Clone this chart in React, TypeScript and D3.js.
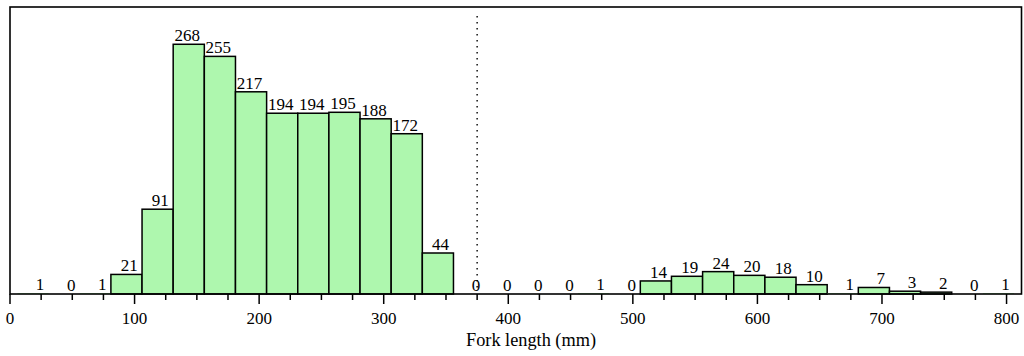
import React from "react";
import { scaleLinear, range } from "d3";

// 25 mm bins, starting at 6 mm
const binStart = 6;
const binWidth = 25;
const counts = [
  1, 0, 1, 21, 91, 268, 255, 217, 194, 194, 195, 188, 172, 44, 0, 0, 0, 0, 1,
  0, 14, 19, 24, 20, 18, 10, 1, 7, 3, 2, 0, 1,
];
const majorTicks = [0, 100, 200, 300, 400, 500, 600, 700, 800];
const minorTicks = range(25, 800, 25).filter((t) => t % 100 !== 0);
const cutoff = 375;
const xTitle = "Fork length (mm)";

const W = 1024;
const H = 356;
const left = 10;
const right = 1021.5;
const top = 7;
const bottom = 294;
const font = "'Liberation Serif', 'Times New Roman', serif";

export default function App() {
  const x = scaleLinear().domain([0, 812]).range([left, right]);
  const y = scaleLinear().domain([0, 308]).range([bottom, top]);

  return (
    <svg
      width={W}
      height={H}
      style={{ position: "absolute", left: 0, top: 0 }}
      fontFamily={font}
    >
      <rect width={W} height={H} fill="#fff" />
      {counts.map((c, i) => {
        const x0 = binStart + i * binWidth;
        // bars under ~1px vanish into the axis line
        const h = bottom - y(c);
        return (
          <rect
            key={"b" + i}
            x={x(x0)}
            y={y(c)}
            width={x(x0 + binWidth) - x(x0)}
            height={h}
            fill="#aef7ae"
            stroke={h > 1 ? "#000" : "none"}
            strokeWidth={1.5}
          />
        );
      })}
      {counts.map((c, i) => {
        const x0 = binStart + i * binWidth;
        return (
          <text
            key={"l" + i}
            x={x(x0 + 21.5)}
            y={y(c) - 3}
            fontSize={17}
            textAnchor="end"
            fill="#000"
          >
            {c}
          </text>
        );
      })}
      <line
        x1={x(cutoff)}
        x2={x(cutoff)}
        y1={top + 9}
        y2={bottom - 4}
        stroke="#000"
        strokeWidth={1.4}
        strokeDasharray="1.5,4.5"
      />
      <rect
        x={left}
        y={top}
        width={right - left}
        height={bottom - top}
        fill="none"
        stroke="#000"
        strokeWidth={1.6}
      />
      {minorTicks.map((t) => (
        <line
          key={"m" + t}
          x1={x(t)}
          x2={x(t)}
          y1={bottom}
          y2={bottom + 6}
          stroke="#000"
          strokeWidth={1.5}
        />
      ))}
      {majorTicks.map((t) => (
        <g key={"t" + t}>
          <line
            x1={x(t)}
            x2={x(t)}
            y1={bottom}
            y2={bottom + 10}
            stroke="#000"
            strokeWidth={1.5}
          />
          <text x={x(t)} y={324} fontSize={17} textAnchor="middle" fill="#000">
            {t}
          </text>
        </g>
      ))}
      <text x={531} y={346} fontSize={18.3} textAnchor="middle" fill="#000">
        {xTitle}
      </text>
    </svg>
  );
}
